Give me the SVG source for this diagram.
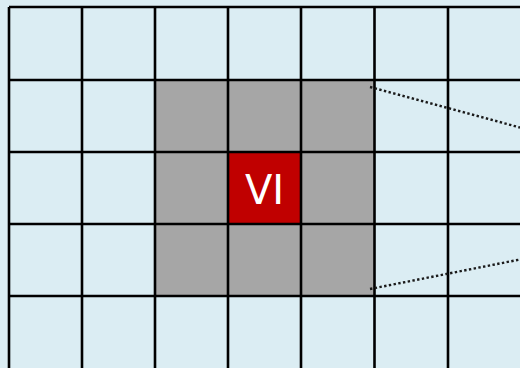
<svg xmlns="http://www.w3.org/2000/svg" width="520" height="368" viewBox="0 0 520 368">
<style>
.grid{stroke:#000;stroke-width:2.6;fill:none}
.dot{stroke:#1a1a1a;stroke-width:2.4;stroke-dasharray:2.4 2.4;fill:none}
.lbl{font-family:"DejaVu Sans",sans-serif;font-size:40px;fill:#fff;text-anchor:middle}
</style>
<rect x="0" y="0" width="520" height="368" fill="#dbedf3"/>
<g id="neighbourhood">
<rect x="155" y="80" width="219" height="216" fill="#a6a6a6"/>
</g>
<g id="center-cell">
<rect x="228" y="152" width="73" height="72" fill="#c00000"/>
<text class="lbl" x="264.5" y="203.5">VI</text>
</g>
<g id="grid" class="grid">
<path d="M9 7V368M82 7V368M155 7V368M228 7V368M301 7V368M374.5 7V368M448 7V368"/>
<path d="M9 7H520M9 80H520M9 152H520M9 224H520M9 296H520"/>
</g>
<g id="connectors" class="dot">
<line x1="370" y1="87" x2="520" y2="127.5"/>
<line x1="370" y1="289" x2="520" y2="259.5"/>
</g>
</svg>
